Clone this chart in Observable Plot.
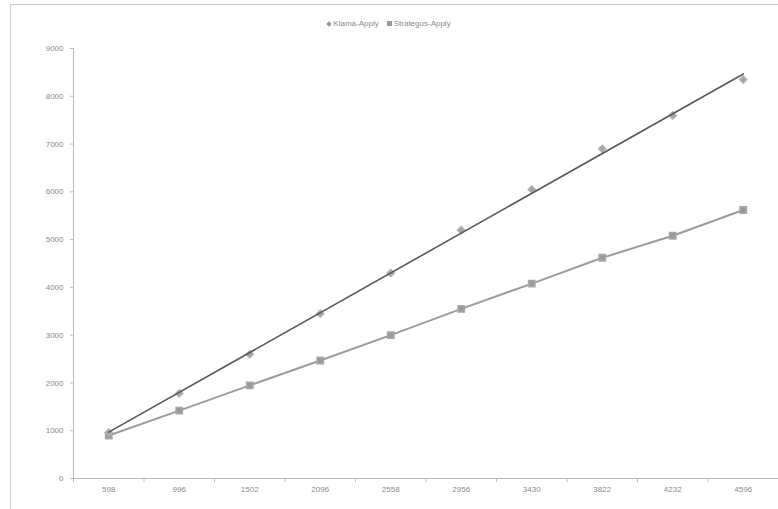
<!DOCTYPE html>
<html>
<head>
<meta charset="utf-8">
<script src="https://cdn.jsdelivr.net/npm/d3@7"></script>
<script src="https://cdn.jsdelivr.net/npm/@observablehq/plot@0.6"></script>
<style>
  html, body { margin: 0; padding: 0; background: #fff; }
  #wrap { position: relative; width: 778px; height: 509px; overflow: hidden; font-family: "Liberation Sans", Arial, sans-serif; }
  #frame { position: absolute; left: 10px; top: 4px; width: 800px; height: 600px; border-left: 1px solid #d0d0d0; border-top: 1px solid #c8c8c8; }
  #legend { position: absolute; top: 19px; left: 0; width: 778px; text-align: center; font-size: 8px; color: #8a8a8a; }
  #legend span { margin: 0 4px; }
  #legend i { display: inline-block; width: 5px; height: 5px; background: #9a9a9a; margin-right: 2px; vertical-align: 0px; }
  #legend i.d { transform: rotate(45deg); width: 4px; height: 4px; }
  #chart { position: absolute; left: 0; top: 0; }
</style>
</head>
<body>
<div id="wrap">
  <div id="frame"></div>
  <div id="chart"></div>
  <div id="legend"><span><i class="d"></i>Klama-Apply</span><span><i></i>Strategos-Apply</span></div>
</div>
<script>
// Category labels along the x axis
const sizes = ["598", "996", "1502", "2096", "2558", "2956", "3430", "3822", "4232", "4596"];
// Series values
const klama = [960, 1780, 2600, 3450, 4300, 5200, 6050, 6900, 7600, 8350];
const strategos = [900, 1420, 1950, 2470, 3000, 3550, 4080, 4620, 5080, 5620];
const yTicks = [0, 1000, 2000, 3000, 4000, 5000, 6000, 7000, 8000, 9000];

const idx = sizes.map((_, i) => i + 1);
const klamaRows = idx.map((i, k) => ({i, v: klama[k]}));
const stratRows = idx.map((i, k) => ({i, v: strategos[k]}));
const bounds = d3.range(0.5, sizes.length + 1, 1);

const chart = Plot.plot({
  width: 778,
  height: 509,
  marginLeft: 73,
  marginRight: 0,
  marginTop: 48,
  marginBottom: 31,
  style: {fontFamily: "Liberation Sans, Arial, sans-serif", fontSize: "8px", color: "#8a8a8a", background: "transparent"},
  x: {domain: [0.5, sizes.length + 0.5], axis: null},
  y: {domain: [0, 9000], axis: null},
  marks: [
    Plot.axisY({ticks: yTicks, tickSize: 3, tickPadding: 7, stroke: "#bbb", tickFormat: d => String(d), fill: "#8a8a8a", label: null}),
    Plot.axisX({ticks: bounds, tickSize: 4, tickFormat: () => "", stroke: "#bbb", label: null}),
    Plot.axisX({ticks: idx, tickSize: 0, tickPadding: 8, tickFormat: i => sizes[i - 1], fill: "#8a8a8a", label: null}),
    Plot.ruleX([0.5], {stroke: "#bbb"}),
    Plot.ruleY([0], {stroke: "#bbb"}),
    // Strategos-Apply series line and markers
    Plot.line(stratRows, {x: "i", y: "v", stroke: "#9c9c9c", strokeWidth: 2}),
    Plot.dot(stratRows, {x: "i", y: "v", symbol: "square", r: 3.6, fill: "#9a9a9a", stroke: "#a8a8a8"}),
    // Klama-Apply markers with its linear trend line
    Plot.dot(klamaRows, {x: "i", y: "v", symbol: "diamond2", r: 3.2, fill: "#a5a5a5", stroke: "#b0b0b0"}),
    Plot.linearRegressionY(klamaRows, {x: "i", y: "v", stroke: "#5a5a5a", strokeWidth: 1.6, ci: 0})
  ]
});
document.getElementById("chart").appendChild(chart);
</script>
</body>
</html>
